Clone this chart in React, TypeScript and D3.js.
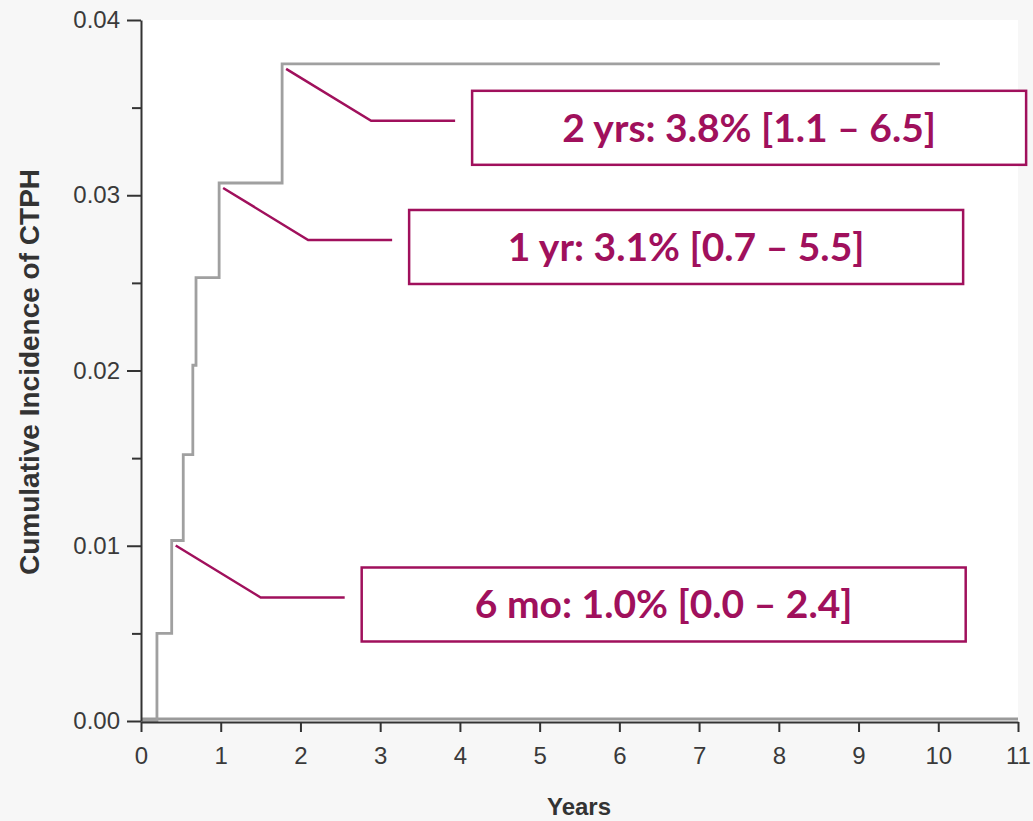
import React, { useEffect, useRef } from 'react'
import * as d3 from 'd3'

// step curve of cumulative incidence (years, value)
const years = [0, 0.2, 0.385, 0.53, 0.65, 0.69, 0.98, 1.77, 10.02]
const incidence = [0, 0.005, 0.0103, 0.0152, 0.0203, 0.0253, 0.0307, 0.0375, 0.0375]

// flat comparison line along zero
const zeroYears = [0, 11]
const zeroIncidence = [0, 0]

const xTicks = [0, 1, 2, 3, 4, 5, 6, 7, 8, 9, 10, 11]
const yTicks = [0, 0.01, 0.02, 0.03, 0.04]
const yMinorTicks = [0.005, 0.015, 0.025, 0.035]

// callouts: text and the curve point they point to
const calloutText = ['2 yrs: 3.8% [1.1 – 6.5]', '1 yr: 3.1% [0.7 – 5.5]', '6 mo: 1.0% [0.0 – 2.4]']
const calloutYears = [1.77, 0.98, 0.385]
const calloutValues = [0.0375, 0.0307, 0.0103]
const calloutBoxW = [554, 554, 604]

const W = 1033
const H = 821
const M = { top: 20, right: 15, bottom: 100, left: 141 }
const MAROON = '#a0105c'
const AXIS_FONT = '"Liberation Sans", Arial, sans-serif'

export default function App() {
  const ref = useRef<SVGSVGElement>(null)

  useEffect(() => {
    const svg = d3.select(ref.current)
    svg.selectAll('*').remove()

    const x = d3.scaleLinear().domain([0, 11]).range([M.left, W - M.right])
    const y = d3.scaleLinear().domain([0, 0.04]).range([H - M.bottom, M.top])

    svg.append('rect').attr('width', W).attr('height', H).attr('fill', '#f7f7f7')
    svg.append('rect')
      .attr('x', x(0)).attr('y', y(0.04))
      .attr('width', x(11) - x(0)).attr('height', y(0) - y(0.04))
      .attr('fill', '#fff')

    const line = d3.line<number>()
      .x((d, i) => x(years[i]))
      .y((d) => y(d))
      .curve(d3.curveStepAfter)

    const zeroLine = d3.line<number>()
      .x((d, i) => x(zeroYears[i]))
      .y((d) => y(d) - 2)

    svg.append('path')
      .attr('d', zeroLine(zeroIncidence))
      .attr('fill', 'none')
      .attr('stroke', '#9a9a9a')
      .attr('stroke-width', 3)

    svg.append('path')
      .attr('d', line(incidence))
      .attr('fill', 'none')
      .attr('stroke', '#a0a0a0')
      .attr('stroke-width', 2.8)

    // y axis
    const gy = svg.append('g').attr('transform', `translate(${x(0)},0)`)
    gy.call(d3.axisLeft(y).tickValues(yTicks).tickFormat(d3.format('.2f'))
      .tickSize(14).tickSizeOuter(0).tickPadding(7))
    const gyMinor = svg.append('g').attr('transform', `translate(${x(0)},0)`)
    gyMinor.call(d3.axisLeft(y).tickValues(yMinorTicks).tickFormat(() => '').tickSize(9))
    gyMinor.select('.domain').remove()

    // x axis
    const gx = svg.append('g').attr('transform', `translate(0,${y(0) + 1})`)
    gx.call(d3.axisBottom(x).tickValues(xTicks).tickSize(10).tickSizeOuter(0).tickPadding(15))

    svg.selectAll('.domain, .tick line').attr('stroke', '#333').attr('stroke-width', 2)
    svg.selectAll('.tick text')
      .attr('fill', '#3a3a3a')
      .style('font-family', AXIS_FONT)
      .style('font-size', '24px')

    svg.append('text')
      .attr('transform', `translate(39,372) rotate(-90)`)
      .attr('text-anchor', 'middle')
      .attr('fill', '#333')
      .style('font-family', AXIS_FONT)
      .style('font-weight', 'bold')
      .style('font-size', '28px')
      .text('Cumulative Incidence of CTPH')

    svg.append('text')
      .attr('x', 579).attr('y', 815)
      .attr('text-anchor', 'middle')
      .attr('fill', '#333')
      .style('font-family', AXIS_FONT)
      .style('font-weight', 'bold')
      .style('font-size', '24px')
      .text('Years')

    // callouts
    calloutText.forEach((label, i) => {
      const ax = x(calloutYears[i]) + 4
      const ay = y(calloutValues[i]) + 5
      const ex = ax + 85
      const ey = ay + 52
      const hx = ex + 84
      const bx = hx + 17
      const bh = 74
      const by = ey - bh / 2 + 7

      svg.append('polyline')
        .attr('points', `${ax},${ay} ${ex},${ey} ${hx},${ey}`)
        .attr('fill', 'none')
        .attr('stroke', MAROON)
        .attr('stroke-width', 2.5)

      svg.append('rect')
        .attr('x', bx).attr('y', by)
        .attr('width', calloutBoxW[i]).attr('height', bh)
        .attr('fill', '#fff')
        .attr('stroke', MAROON)
        .attr('stroke-width', 2.5)

      svg.append('text')
        .attr('x', bx + calloutBoxW[i] / 2)
        .attr('y', by + bh / 2 + 14)
        .attr('text-anchor', 'middle')
        .attr('fill', MAROON)
        .style('font-family', 'Lato, "Open Sans", sans-serif')
        .style('font-weight', 'bold')
        .style('font-size', '39px')
        .text(label)
    })
  }, [])

  return (
    <svg ref={ref} width={W} height={H} style={{ position: 'absolute', left: 0, top: 0 }} />
  )
}
